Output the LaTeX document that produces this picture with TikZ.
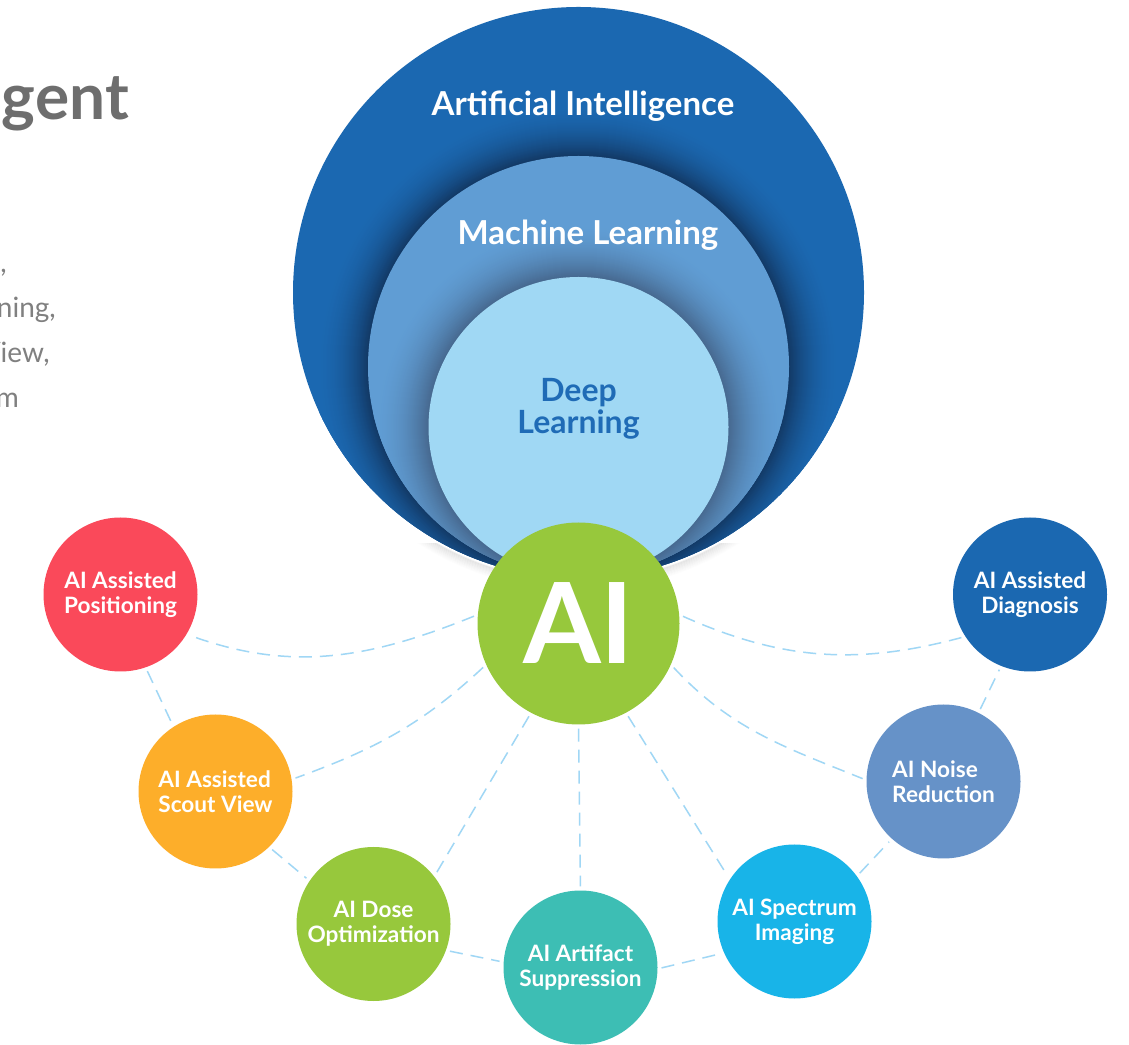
\documentclass[tikz,border=0pt]{standalone}
\usepackage{fontspec}
\setmainfont{Lato}
\definecolor{outerblue}{RGB}{27,104,177}
\definecolor{mlblue}{RGB}{96,157,212}
\definecolor{dlblue}{RGB}{160,216,244}
\definecolor{dltext}{RGB}{31,107,182}
\definecolor{haloA}{RGB}{18,56,100}
\definecolor{haloB}{RGB}{70,104,142}
\definecolor{aigreen}{RGB}{151,200,60}
\definecolor{posred}{RGB}{250,73,90}
\definecolor{scoutorange}{RGB}{253,174,42}
\definecolor{artteal}{RGB}{61,190,180}
\definecolor{speccyan}{RGB}{24,180,232}
\definecolor{noiseblue}{RGB}{102,146,200}
\definecolor{linkblue}{RGB}{160,215,245}
\definecolor{titlegray}{RGB}{110,110,110}
\definecolor{bodygray}{RGB}{128,128,128}
\begin{document}
\begin{tikzpicture}[x=1pt,y=1pt,
  sat/.style={circle, minimum size=154pt, inner sep=0pt, text=white,
    font=\bfseries\fontsize{22.6}{25}\selectfont, align=center},
  link/.style={draw=linkblue, line width=1.5pt, dash pattern=on 13pt off 8pt,
    shorten <=4pt, shorten >=4pt},
  biglabel/.style={text=white, font=\bfseries\fontsize{33}{36}\selectfont,
    inner sep=0pt, anchor=base},
  frag/.style={anchor=base east, inner sep=0pt, text=bodygray,
    font=\fontsize{28}{34}\selectfont}]
\useasboundingbox (0,0) rectangle (1129,1044);
\clip (0,0) rectangle (1129,1044);
\fill[white] (0,0) rectangle (1129,1044);

% left cut-off text fragments
\node[anchor=base east, inner sep=0pt, text=titlegray,
  font=\bfseries\fontsize{64}{64}\selectfont] (title) at (129,924) {gent};
\node[frag] (l1) at (7,771) {,};
\node[frag] (l2) at (56,726) {ning,};
\node[frag] (l3) at (50,681) {View,};
\node[frag] (l4) at (19,636) {m};

% soft shadow under the big circles
\begin{scope}
  \clip (250,440) rectangle (900,500);
  \foreach \i in {1,...,10}{
    \pgfmathsetmacro\op{0.07*(1-\i/11)}
    \draw[black, opacity=\op, line width=1.5pt] (578.5,749.5) circle[radius=285.5+\i];
  }
\end{scope}

% outer circle: Artificial Intelligence
\fill[outerblue] (578.5,751.5) circle[radius=285.5];
\begin{scope}
  \clip (578.5,751.5) circle[radius=285.5];
  \foreach \i in {0,...,52}{
    \pgfmathtruncatemacro\p{100*(1-\i/53)^2}
    \draw[line width=1.6pt, haloA!\p!outerblue] (578.5,677.5) circle[radius=210.5+\i];
  }
\end{scope}
% middle circle: Machine Learning
\fill[mlblue] (578.5,677.5) circle[radius=210.5];
\begin{scope}
  \clip (578.5,677.5) circle[radius=210.5];
  \foreach \i in {0,...,55}{
    \pgfmathtruncatemacro\p{100*(1-\i/56)^2}
    \draw[line width=1.6pt, haloB!\p!mlblue] (578.5,617) circle[radius=150+\i];
  }
\end{scope}
% inner circle: Deep Learning
\fill[dlblue] (578.5,617) circle[radius=150];

\node[biglabel] (ailabel) at (583,928) {Artificial Intelligence};
\node[biglabel] (mllabel) at (588,799) {Machine Learning};
\node[inner sep=0pt, align=center, text=dltext,
  font=\bfseries\fontsize{32}{32.5}\selectfont] (dllabel) at (578.5,635) {Deep\\Learning};

% central AI node
\node[circle, minimum size=202pt, inner sep=0pt, fill=aigreen, text=white,
  font=\bfseries\fontsize{112}{112}\selectfont] (ai) at (578.5,420.5) {AI};

% satellite nodes
\node[sat, fill=posred] (pos) at (120.5,449.5) {AI Assisted\\Positioning};
\node[sat, fill=scoutorange, align=left] (scout) at (215.5,252.5) {AI Assisted\\Scout View};
\node[sat, fill=aigreen] (dose) at (373.5,120) {AI Dose\\Optimization};
\node[sat, fill=artteal] (art) at (580.5,76.5) {AI Artifact\\Suppression};
\node[sat, fill=speccyan] (spec) at (794.5,122.5) {AI Spectrum\\Imaging};
\node[sat, fill=noiseblue, align=left] (noise) at (943.5,262.5) {AI Noise\\Reduction};
\node[sat, fill=outerblue] (diag) at (1030,449.5) {AI Assisted\\Diagnosis};

% spokes
\draw[link] (ai.175) to[out=202, in=-20] (pos.-31);
\draw[link] (ai.204) to[out=223, in=20] (scout.9);
\draw[link] (ai.242) -- (dose.38);
\draw[link] (ai.-90) -- (art.90);
\draw[link] (ai.-62) -- (spec.147);
\draw[link] (ai.-24) to[out=-47, in=158] (noise.179);
\draw[link] (ai.5) to[out=-24, in=195] (diag.213);

% ring
\draw[link] (pos.-71) -- (scout.123);
\draw[link] (scout.-46) -- (dose.146);
\draw[link] (dose.-20) -- (art.176);
\draw[link] (art.-1) -- (spec.204);
\draw[link] (spec.36) -- (noise.228);
\draw[link] (noise.63) -- (diag.248);
\end{tikzpicture}
\end{document}
